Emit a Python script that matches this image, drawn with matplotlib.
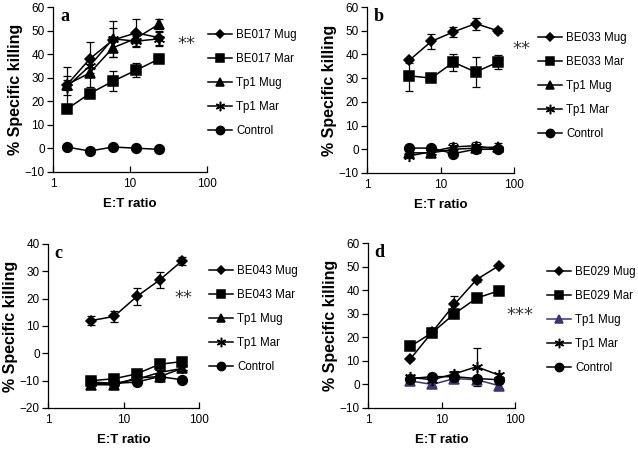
import matplotlib
matplotlib.use("Agg")
import matplotlib.pyplot as plt
from matplotlib.lines import Line2D

plt.rcParams['font.family'] = ['Liberation Sans', 'DejaVu Sans']

W, H = 638, 450

x_a = [1.5, 3, 6, 12, 24]
x_bcd = [3.75, 7.5, 15, 30, 60]

# Panel a
a_be_mug = [26.8, 38.0, 46.0, 49.0, 47.0]
a_be_mug_err = [4, 7, 5, 6, 3]
a_be_mar = [16.6, 23.3, 28.5, 33.2, 38.0]
a_be_mar_err = [1, 1, 4.2, 3, 1]
a_tp_mug = [27.0, 32.0, 42.7, 46.7, 52.8]
a_tp_mug_err = [2, 6, 4, 2, 2]
a_tp_mar = [26.0, 35.0, 46.5, 45.5, 46.5]
a_tp_mar_err = [8.5, 3, 7.5, 2, 3]
a_ctrl = [0.6, -1.1, 0.6, 0.1, -0.4]
a_ctrl_err = [0.5, 0.5, 0.5, 0.5, 0.5]

# Panel b
b_be_mug = [37.5, 45.5, 49.5, 53.0, 50.0]
b_be_mug_err = [1, 3.2, 2.2, 2.5, 1]
b_be_mar = [31.0, 30.0, 36.7, 32.6, 36.7]
b_be_mar_err = [6.3, 0.5, 3.5, 6.4, 3]
b_tp_mug = [-1.5, -1.5, 0.0, 0.5, 1.0]
b_tp_mug_err = [1, 1, 1, 1.5, 1.5]
b_tp_mar = [-2.8, -1.0, 1.0, 1.5, 0.0]
b_tp_mar_err = [1, 1, 1.5, 1.5, 1]
b_ctrl = [0.5, 0.5, -1.8, 0.0, 0.0]
b_ctrl_err = [0.5, 0.5, 0.5, 0.5, 0.5]

# Panel c
c_be_mug = [12.0, 13.5, 20.8, 26.8, 33.9]
c_be_mug_err = [1.5, 2, 3, 3, 1.5]
c_be_mar = [-10.0, -9.3, -7.5, -4.0, -3.0]
c_be_mar_err = [1, 1, 1, 1, 1.5]
c_tp_mug = [-11.5, -11.5, -9.0, -8.5, -5.5]
c_tp_mug_err = [1, 1, 1, 1, 1]
c_tp_mar = [-11.0, -11.0, -9.5, -7.0, -5.5]
c_tp_mar_err = [1, 1, 1, 1, 1]
c_ctrl = [-10.5, -11.0, -10.5, -8.5, -9.7]
c_ctrl_err = [1, 1, 1, 1, 1]

# Panel d
d_be_mug = [10.7, 22.3, 34.0, 44.5, 50.3]
d_be_mug_err = [0.5, 1.5, 3.5, 1, 0.5]
d_be_mar = [16.1, 22.0, 30.0, 36.6, 39.7]
d_be_mar_err = [0.5, 1, 1, 1, 0.5]
d_tp_mug = [1.5, 0.0, 2.5, 2.0, -0.5]
d_tp_mug_err = [0.5, 0.5, 1, 1, 1]
d_tp_mar = [3.0, 2.0, 4.5, 7.5, 4.0]
d_tp_mar_err = [0.5, 0.5, 1, 8, 1]
d_ctrl = [2.5, 3.3, 3.3, 2.5, 2.0]
d_ctrl_err = [0.5, 0.5, 0.5, 0.5, 0.5]

labels_a = ["BE017 Mug", "BE017 Mar", "Tp1 Mug", "Tp1 Mar", "Control"]
labels_b = ["BE033 Mug", "BE033 Mar", "Tp1 Mug", "Tp1 Mar", "Control"]
labels_c = ["BE043 Mug", "BE043 Mar", "Tp1 Mug", "Tp1 Mar", "Control"]
labels_d = ["BE029 Mug", "BE029 Mar", "Tp1 Mug", "Tp1 Mar", "Control"]

markers = ['D', 's', '^', (6, 2, 0), 'o']
msizes = [5, 7, 7, 8, 7]

fig = plt.figure(figsize=(W / 100, H / 100), dpi=100)


def px_axes(l, t, r, b):
    return fig.add_axes([l / W, 1 - b / H, (r - l) / W, (b - t) / H])


panels = [
    dict(box=(53, 7, 207, 172), x=x_a,
         series=[(a_be_mug, a_be_mug_err), (a_be_mar, a_be_mar_err), (a_tp_mug, a_tp_mug_err),
                 (a_tp_mar, a_tp_mar_err), (a_ctrl, a_ctrl_err)],
         labels=labels_a, ylim=(-10, 60), letter='a', stars='**', star_pos=(186, 44),
         leg=(208, 29)),
    dict(box=(367, 7, 514, 173), x=x_bcd,
         series=[(b_be_mug, b_be_mug_err), (b_be_mar, b_be_mar_err), (b_tp_mug, b_tp_mug_err),
                 (b_tp_mar, b_tp_mar_err), (b_ctrl, b_ctrl_err)],
         labels=labels_b, ylim=(-10, 60), letter='b', stars='**', star_pos=(521, 49),
         leg=(538, 32)),
    dict(box=(48, 244, 199, 408), x=x_bcd,
         series=[(c_be_mug, c_be_mug_err), (c_be_mar, c_be_mar_err), (c_tp_mug, c_tp_mug_err),
                 (c_tp_mar, c_tp_mar_err), (c_ctrl, c_ctrl_err)],
         labels=labels_c, ylim=(-20, 40), letter='c', stars='**', star_pos=(183, 298),
         leg=(209, 265)),
    dict(box=(368, 243, 515, 408), x=x_bcd,
         series=[(d_be_mug, d_be_mug_err), (d_be_mar, d_be_mar_err), (d_tp_mug, d_tp_mug_err),
                 (d_tp_mar, d_tp_mar_err), (d_ctrl, d_ctrl_err)],
         labels=labels_d, ylim=(-10, 60), letter='d', stars='***', star_pos=(520, 315),
         leg=(547, 266)),
]

for pi, p in enumerate(panels):
    ax = px_axes(*p['box'])
    ax.set_xscale('log')
    ax.set_xlim(1, 100)
    ax.set_ylim(*p['ylim'])
    ax.set_yticks(range(p['ylim'][0], p['ylim'][1] + 1, 10))
    ax.set_xticks([1, 10, 100])
    ax.set_xticklabels(['1', '10', '100'])
    ax.xaxis.set_minor_locator(matplotlib.ticker.NullLocator())
    for s in ['top', 'right']:
        ax.spines[s].set_visible(False)
    for s in ['left', 'bottom']:
        ax.spines[s].set_linewidth(0.9)
    ax.tick_params(axis='y', direction='out', length=4, width=0.9, labelsize=8.5, pad=2)
    ax.tick_params(axis='x', direction='in', length=4, width=0.9, labelsize=8.5, pad=4)
    handles = []
    for si, ((vals, err), lab) in enumerate(zip(p['series'], p['labels'])):
        col = 'black'
        if pi == 3 and si == 2:
            col = '#3f3275'
        ax.errorbar(p['x'], vals, yerr=err, color='black', ecolor='black', elinewidth=0.9,
                    capsize=2.8, capthick=0.9, lw=0, zorder=2)
        ax.plot(p['x'], vals, color=col, lw=1.1, marker=markers[si], ms=msizes[si],
                mfc=col, mec=col, mew=1.1, zorder=3)
        handles.append(Line2D([], [], color=col, lw=1.1, marker=markers[si],
                              ms=msizes[si] * 0.85, mfc=col, mec=col, mew=1.1))
    ax.set_xlabel('E:T ratio', fontsize=9.5, fontweight='bold', labelpad=6)
    ax.set_ylabel('% Specific killing', fontsize=11.5, fontweight='bold', labelpad=1)
    ax.text(0.045, 0.995, p['letter'], transform=ax.transAxes, fontsize=13, fontweight='bold',
            family='Liberation Serif', va='top', ha='left')
    fig.text(p['star_pos'][0] / W, 1 - p['star_pos'][1] / H, p['stars'], fontsize=13,
             family='DejaVu Sans', color='#333333', ha='center', va='center')
    lx, ly = p['leg']
    fig.legend(handles, p['labels'], loc='upper left',
               bbox_to_anchor=(lx / W, 1 - ly / H), frameon=False, fontsize=8.3,
               handlelength=2.1, handletextpad=0.35, labelspacing=1.05, borderpad=0,
               borderaxespad=0)

fig.savefig('out.png', dpi=100)
